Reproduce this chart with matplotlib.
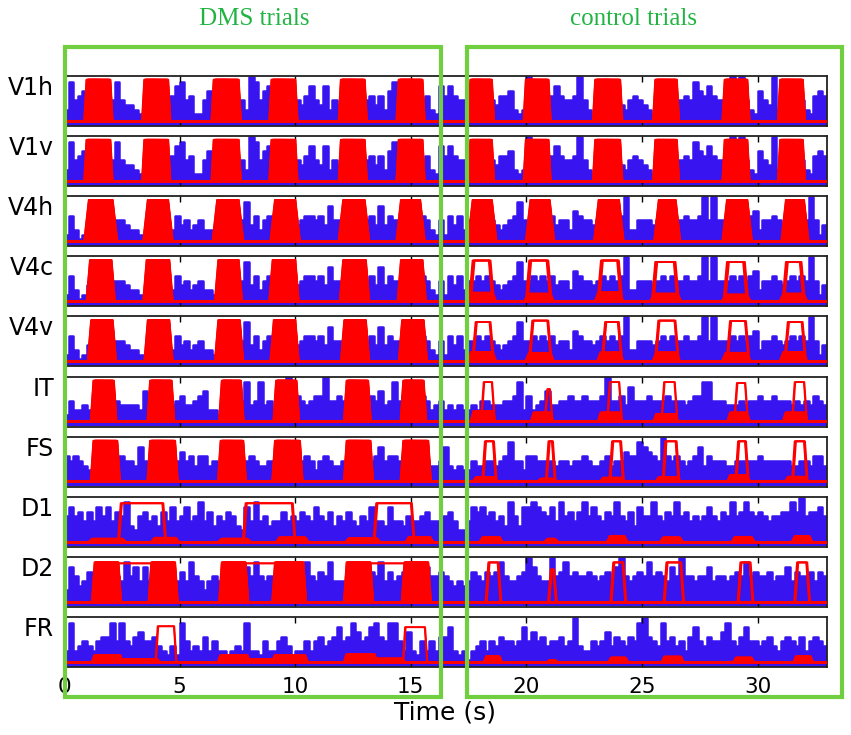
import numpy as np
import matplotlib
matplotlib.use("Agg")
import matplotlib.pyplot as plt
from matplotlib.patches import Rectangle

# ---------------- data ----------------
row_names = ["V1h", "V1v", "V4h", "V4c", "V4v", "IT", "FS", "D1", "D2", "FR"]
x_ticks = [0, 5, 10, 15, 20, 25, 30]
t_end = 33.0
bin_width = 0.2  # s, blue signal sampled in 0.2 s bins

# blue activity (tenths of full scale), one value per 0.2 s bin, 5 values per second
blue_v1 = [3,9,5,6,7, 5,6,4,5,6, 5,9,5,4,4, 3,2,5,6,5, 6,5,4,6,8, 9,5,6,2,2,
           5,7,5,6,5, 6,5,4,5,3, 10,9,5,7,8, 5,6,5,6,5, 5,4,6,8,5, 4,8,3,5,4,
           5,6,5,6,5, 5,6,4,6,3, 7,9,5,6,5, 5,6,5,6,3, 2,8,6,8,6, 5,5,4,5,6,
           5,6,5,4,6, 6,7,3,2,3, 10,5,6,5,6, 6,8,6,5,5, 6,10,5,3,2, 5,6,5,6,5,
           4,3,5,6,5, 4,3,2,5,6, 5,6,5,5,6, 5,9,7,6,8, 6,5,5,5,10, 6,10,5,3,2,
           7,5,4,10,3, 5,6,5,6,5, 3,2,6,7,6]
blue_v4 = [2,6,3,1,2, 4,5,6,5,4, 5,5,5,4,3, 3,2,2,5,5, 5,6,4,3,6, 4,5,3,4,5,
           3,3,2,5,6, 5,6,5,5,9, 4,6,3,5,6, 5,6,5,6,5, 4,5,6,6,5, 6,4,8,5,5,
           5,6,5,6,5, 5,6,4,8,4, 6,5,5,6,5, 6,5,6,5,3, 2,5,2,6,4, 6,3,5,5,6,
           5,6,5,4,3, 4,5,6,9,5, 5,6,5,6,5, 6,4,5,5,3, 7,6,5,5,4, 5,6,5,6,5,
           6,10,3,3,5, 5,5,4,5,6, 5,6,5,5,6, 5,5,6,10,5, 10,5,5,5,6, 5,6,5,6,7,
           3,5,5,6,5, 4,5,6,5,6, 5,10,5,2,4]
blue_it = [2,5,3,3,4, 3,5,6,5,4, 5,5,4,4,4, 4,3,7,5,6, 5,6,5,4,5, 6,4,4,5,6,
           7,3,3,2,5, 6,5,6,5,9, 4,5,9,4,5, 3,5,6,10,5, 6,5,4,5,6, 6,10,5,5,6,
           5,6,5,6,5, 5,6,5,7,4, 5,9,5,6,5, 6,5,6,5,3, 4,5,3,4,3, 4,3,3,4,3,
           5,5,4,4,4, 5,5,6,9,3, 6,3,4,5,7, 4,4,5,5,6, 5,5,6,5,5, 5,6,10,5,5,
           6,4,8,5,5, 5,6,5,5,5, 6,5,5,5,4, 5,6,6,9,9, 5,5,5,4,4, 4,5,4,5,5,
           6,5,5,6,5, 5,5,4,5,4, 5,4,6,5,4]
blue_fs = [6,5,6,5,4, 3,5,6,5,6, 5,5,6,5,5, 4,8,5,4,5, 6,5,6,5,5, 7,5,6,4,6,
           6,4,5,4,5, 6,5,6,5,5, 6,5,4,4,5, 5,6,5,6,5, 6,5,6,5,3, 5,6,5,4,4,
           5,6,5,6,5, 6,5,6,8,5, 6,6,5,6,5, 6,5,6,5,4, 4,5,8,4,3, 4,3,3,5,4,
           4,5,5,4,5, 6,9,5,5,3, 6,6,5,5,5, 5,4,5,5,4, 5,5,6,5,4, 4,5,6,4,5,
           5,7,6,6,9, 8,7,6,5,10, 6,5,6,5,4, 5,6,8,4,6, 5,5,5,4,4, 5,5,5,5,5,
           6,5,5,5,5, 5,5,4,4,5, 5,4,6,6,4]
blue_d1 = [6,8,6,7,5, 7,5,8,6,8, 5,7,6,9,4, 3,6,7,5,6, 4,7,5,8,5, 6,8,5,6,9,
           5,7,4,6,5, 7,6,4,3,8, 5,9,5,6,4, 5,5,7,5,6, 5,7,6,5,8, 6,5,7,4,6,
           5,7,5,4,6, 5,8,5,5,4, 8,5,5,4,6, 5,5,6,7,5, 5,4,6,7,5, 3,3,5,8,7,
           8,6,7,5,6, 4,9,6,4,8, 8,9,8,7,6, 8,5,9,6,7, 5,7,9,6,8, 6,5,7,6,9,
           6,5,7,4,8, 6,6,9,6,5, 7,6,9,6,7, 5,6,5,6,8, 6,5,7,6,9, 6,7,9,7,6,
           7,6,5,6,6, 7,7,9,7,10, 6,7,7,8,6]
blue_d2 = [3,8,6,4,5, 7,5,6,7,6, 5,6,5,9,6, 8,5,8,5,3, 5,6,7,6,5, 7,5,9,6,5,
           3,5,6,5,5, 6,7,6,5,8, 6,9,6,5,6, 5,6,7,6,5, 6,7,9,6,5, 7,6,9,5,5,
           5,6,7,6,5, 6,7,6,9,5, 7,5,6,7,6, 5,6,7,8,6, 6,7,6,5,4, 5,4,5,7,6,
           5,7,6,7,9, 6,5,5,6,7, 10,8,6,5,5, 10,6,7,9,6, 7,6,6,7,6, 5,6,7,5,8,
           10,6,5,6,7, 6,9,6,7,6, 5,8,6,10,6, 6,5,6,6,8, 5,6,6,5,6, 7,6,9,6,7,
           6,6,7,5,6, 6,8,5,7,6, 6,7,5,7,6]
blue_fr = [3,9,3,4,5, 4,3,5,6,6, 9,5,9,5,4, 6,7,5,5,6, 4,3,2,4,2, 9,5,3,4,3,
           6,3,5,3,3, 2,3,4,3,9, 3,3,2,5,3, 3,5,6,4,2, 3,3,5,3,5, 6,4,5,6,8,
           5,6,9,7,5, 6,8,9,6,5, 9,9,5,3,7, 3,2,5,3,5, 3,6,6,8,3, 2,3,1,3,4,
           5,3,5,4,6, 5,5,4,5,8, 5,7,5,6,4, 5,5,6,4,5, 10,4,3,3,5, 4,5,7,4,6,
           5,4,6,5,9, 10,6,5,4,9, 5,6,4,5,3, 6,8,5,4,6, 5,5,7,9,5, 4,6,8,5,5,
           4,5,6,4,3, 5,6,5,4,6, 3,5,6,5,4]
blue_rows = [blue_v1, blue_v1, blue_v4, blue_v4, blue_v4,
             blue_it, blue_fs, blue_d1, blue_d2, blue_fr]

# red model traces: (plateau on, plateau off, height, number of trial lines, solid)
red_v1 = [(1.0,1.95,.94,8,1), (3.5,4.45,.94,8,1), (6.5,7.5,.94,8,1), (9.0,9.95,.94,8,1),
          (12.0,12.95,.94,8,1), (14.5,15.45,.94,8,1), (17.6,18.45,.94,8,1), (20.0,20.9,.94,8,1),
          (23.0,24.0,.94,8,1), (25.6,26.45,.94,8,1), (28.6,29.5,.94,8,1), (31.0,31.9,.94,8,1)]
red_v4h = [(1.1,2.05,.94,8,1), (3.65,4.45,.94,8,1), (6.65,7.5,.94,8,1), (9.15,9.95,.94,8,1),
           (12.1,12.95,.94,8,1), (14.6,15.35,.94,8,1), (17.7,18.45,.94,8,1), (20.2,20.95,.94,8,1),
           (23.15,23.95,.94,8,1), (25.75,26.4,.94,8,1), (28.7,29.5,.94,8,1), (31.25,31.95,.94,8,1)]
red_v4c = [(1.15,2.0,.94,8,1), (3.6,4.5,.94,8,1), (6.7,7.5,.94,8,1), (9.05,9.95,.94,8,1),
           (12.1,13.0,.94,8,1), (14.6,15.45,.94,8,1),
           (17.7,18.4,.93,4,0), (20.15,20.9,.93,4,0), (23.25,23.95,.93,4,0), (25.6,26.4,.9,4,0),
           (28.7,29.4,.9,4,0), (31.25,31.85,.9,4,0),
           (17.6,18.5,.24,3,1), (20.05,21.0,.22,3,1), (23.1,24.0,.25,3,1), (25.5,26.5,.22,3,1),
           (28.6,29.5,.2,3,1), (31.1,31.95,.22,3,1)]
red_v4v = [(1.2,2.05,.94,8,1), (3.65,4.5,.94,8,1), (6.7,7.55,.94,8,1), (9.1,9.95,.94,8,1),
           (12.15,13.0,.94,8,1), (14.65,15.5,.94,8,1),
           (17.8,18.4,.9,3,0), (20.25,20.9,.93,3,0), (23.4,23.95,.9,3,0), (25.7,26.4,.93,3,0),
           (28.8,29.45,.92,3,0), (31.3,31.9,.9,3,0),
           (17.6,18.5,.26,3,1), (20.1,21.0,.24,3,1), (23.2,24.0,.25,3,1), (25.6,26.45,.25,3,1),
           (28.6,29.5,.24,3,1), (31.1,31.95,.26,3,1)]
red_it = [(1.3,2.1,.93,8,1), (3.75,4.6,.93,8,1), (6.85,7.6,.93,8,1), (9.2,10.0,.93,8,1),
          (12.25,13.1,.93,8,1), (14.7,15.5,.93,8,1),
          (18.15,18.5,.9,2,0), (20.9,21.0,.75,2,0), (23.6,24.0,.9,2,0), (25.95,26.4,.9,2,0),
          (29.1,29.45,.88,2,0), (31.6,32.0,.9,2,0),
          (17.7,18.5,.28,3,1), (20.3,21.0,.25,3,1), (23.2,24.0,.25,3,1), (25.6,26.4,.22,3,1),
          (28.8,29.5,.25,3,1), (31.2,32.0,.25,3,1)]
red_fs = [(1.3,2.25,.93,8,1), (3.75,4.75,.93,8,1), (6.8,7.7,.93,8,1), (9.15,10.15,.93,8,1),
          (12.25,13.2,.93,8,1), (14.7,15.7,.93,8,1),
          (18.2,18.55,.92,3,0), (20.95,21.1,.92,3,0), (23.7,24.05,.92,3,0), (26.0,26.45,.92,3,0),
          (29.15,29.45,.92,3,0), (31.6,32.0,.92,3,0),
          (17.8,18.6,.15,3,1), (20.6,21.1,.12,3,1), (23.3,24.1,.14,3,1), (25.7,26.5,.15,3,1),
          (28.8,29.5,.2,3,1), (31.3,32.0,.16,3,1)]
red_d1 = [(2.45,4.25,.88,3,0), (7.85,9.85,.88,3,0), (13.5,15.0,.88,3,0),
          (1.2,2.5,.12,3,1), (3.9,4.8,.14,3,1), (6.8,7.9,.12,3,1), (9.3,10.4,.15,3,1),
          (12.3,13.5,.13,3,1), (14.9,15.8,.16,3,1),
          (18.1,18.8,.16,3,1), (20.9,21.2,.12,3,1), (23.6,24.2,.18,3,1), (25.9,26.6,.15,3,1),
          (29.0,29.7,.16,3,1), (31.6,32.2,.18,3,1)]
red_d2 = [(1.35,2.3,.9,8,1), (3.8,4.75,.9,8,1), (6.85,7.8,.9,8,1), (9.15,10.3,.9,8,1),
          (12.25,13.2,.9,8,1), (14.75,15.7,.9,8,1),
          (1.4,4.7,.88,2,0), (6.9,10.25,.88,2,0), (12.3,15.65,.88,2,0),
          (18.35,18.75,.9,3,0), (21.05,21.15,.75,3,0), (23.75,24.15,.9,3,0), (26.05,26.65,.9,3,0),
          (29.25,29.65,.9,3,0), (31.7,32.1,.9,3,0)]
red_fr = [(1.3,2.4,.2,3,1), (2.4,4.0,.12,3,1), (6.75,7.9,.2,3,1), (7.9,9.0,.12,3,1),
          (9.1,10.4,.2,3,1), (12.2,13.4,.22,3,1), (13.4,14.6,.13,3,1),
          (4.05,4.75,.82,2,0), (14.75,15.6,.8,2,0),
          (18.25,18.8,.18,3,1), (21.0,21.2,.1,3,1), (23.65,24.25,.15,3,1), (25.95,26.65,.17,3,1),
          (29.05,29.7,.15,3,1), (31.65,32.25,.18,3,1)]
red_rows = [red_v1, red_v1, red_v4h, red_v4c, red_v4v, red_it, red_fs, red_d1, red_d2, red_fr]
red_ramp = [0.1, 0.1, 0.2, 0.15, 0.15, 0.12, 0.12, 0.12, 0.12, 0.1]
red_base = 0.06
# trial-to-trial timing offsets (onset shift, offset shift) in s
trial_jitter = [(0.0, 0.0), (0.03, 0.02), (0.06, 0.05), (-0.03, -0.03),
                (0.05, -0.35), (0.02, -0.5), (0.08, 0.04), (-0.02, 0.06)]

# ---------------- figure ----------------
W, H = 851, 735
fig = plt.figure(figsize=(W / 100, H / 100), dpi=100)
BLUE = "#3814f0"
RED = "#ff0000"

t = np.arange(len(blue_v1)) * bin_width
t_step = np.append(t, t_end)

for i, name in enumerate(row_names):
    top = 76 + 60.1 * i
    ax = fig.add_axes([64 / W, 1 - (top + 50) / H, 763 / W, 50 / H])
    vals = np.array(blue_rows[i], dtype=float) / 10.0
    v_step = np.append(vals, vals[-1])
    ax.fill_between(t_step, -0.03, v_step, step="post", color=BLUE, lw=0, zorder=1)
    ax.plot(t_step, v_step, drawstyle="steps-post", color=BLUE, lw=1.8, zorder=1)
    ax.plot([0, t_end], [0.0, 0.0], color=BLUE, lw=2.5, zorder=1)

    ramp = red_ramp[i]
    ax.plot([0, t_end], [red_base, red_base], color=RED, lw=2.2, zorder=3)
    for (on, off, h, n, solid) in red_rows[i]:
        jit = trial_jitter[:n]
        if solid:
            a = on + min(j[0] for j in jit)
            b = off + max(j[1] for j in jit)
            ax.fill_between([a - ramp, a, b, b + ramp], red_base,
                            [red_base, h, h, red_base], color=RED, lw=0, zorder=2)
        for (don, doff) in jit:
            a, b = on + don, max(off + doff, on + don + 0.05)
            ax.plot([a - ramp, a, b, b + ramp], [red_base, h, h, red_base],
                    color=RED, lw=1.3, zorder=3)

    ax.set_xlim(0, t_end)
    ax.set_ylim(-0.05, 1.02)
    ax.set_yticks([])
    ax.set_xticks(x_ticks)
    ax.tick_params(axis="x", direction="in", top=True, length=4, width=1,
                   labelsize=15.5, pad=7, labelbottom=(i == len(row_names) - 1))
    for s in ax.spines.values():
        s.set_linewidth(1.3)
        s.set_color("#222222")
    fig.text(54 / W, 1 - (top + 12) / H, name, ha="right", va="center", fontsize=17)
    if i == len(row_names) - 1:
        ax.set_xlabel("Time (s)", fontsize=18, labelpad=3)

# green frames and titles
GREEN = "#6fcf3f"
for (x0, x1) in [(65, 441), (467, 842)]:
    fig.add_artist(Rectangle((x0 / W, 1 - 697 / H), (x1 - x0) / W, (697 - 47) / H,
                             transform=fig.transFigure, fill=False, ec=GREEN, lw=3.0,
                             zorder=10))
fig.text(254 / W, 1 - 19 / H, "DMS trials", color="#22b443", fontsize=18,
         family="Liberation Serif", ha="center", va="center")
fig.text(633 / W, 1 - 19 / H, "control trials", color="#22b443", fontsize=18,
         family="Liberation Serif", ha="center", va="center")

fig.savefig("out.png", dpi=100)
